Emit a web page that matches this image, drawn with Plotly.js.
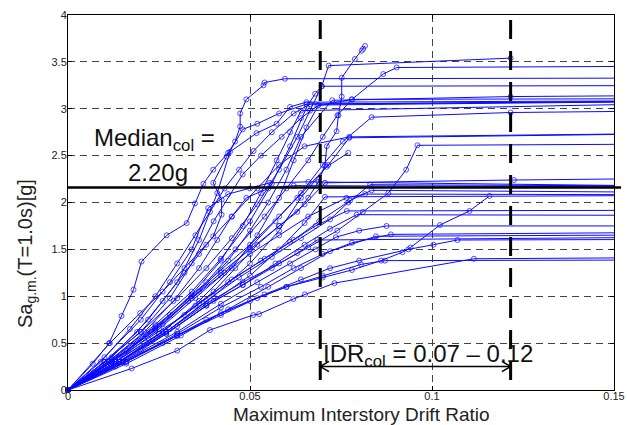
<!DOCTYPE html>
<html>
<head>
<meta charset="utf-8">
<script src="https://cdn.plot.ly/plotly-3.0.1.min.js"></script>
<style>html,body{margin:0;padding:0;background:#fff;}#chart{width:627px;height:425px;}</style>
</head>
<body>
<div id="chart"></div>
<script>
// IDA curves: maximum interstory drift ratio (x) vs Sa g.m. (T=1.0s) [g] (y)
// a final point at x = 0.2 represents the flat collapse tail running off the axis
const r01x = [0,0.0068,0.0113,0.0147,0.018,0.0202,0.0271,0.0326,0.0349,0.0372,0.0399,0.044,0.0459,0.0473,0.0473,0.049,0.0537,0.054,0.0596,0.2];
const r01y = [0,0.28,0.50,0.79,1.07,1.37,1.65,1.78,1.99,2.20,2.35,2.53,2.65,2.81,2.95,3.10,3.25,3.28,3.32,3.33];
const r02x = [0,0.012,0.022,0.032,0.04,0.046,0.052,0.058,0.063,0.066,0.0688,0.0706,0.0711,0.0738,0.0743,0.0752,0.0752,0.0788,0.0807,0.0811,0.0816];
const r02y = [0,0.30,0.55,0.80,1.05,1.30,1.55,1.75,1.90,2.05,2.22,2.40,2.60,2.76,2.93,3.13,3.33,3.53,3.62,3.64,3.67];
const r03x = [0,0.012,0.024,0.034,0.042,0.05,0.056,0.061,0.0656,0.0679,0.0697,0.0716,0.1216];
const r03y = [0,0.33,0.70,1.05,1.40,1.80,2.20,2.60,3.02,3.16,3.24,3.46,3.54];
const r04x = [0,0.016,0.028,0.038,0.046,0.054,0.060,0.066,0.070,0.074,0.078,0.0866,0.0903,0.2];
const r04y = [0,0.42,0.80,1.15,1.50,1.85,2.15,2.45,2.70,2.93,3.10,3.37,3.44,3.46];
const r05x = [0,0.010,0.020,0.030,0.038,0.045,0.052,0.058,0.063,0.0665,0.0697,0.2];
const r05y = [0,0.30,0.62,0.98,1.30,1.62,1.98,2.35,2.70,2.98,3.24,3.25];
const r06x = [0,0.014,0.026,0.036,0.044,0.050,0.055,0.060,0.064,0.0726,0.1216,0.2];
const r06y = [0,0.35,0.70,1.05,1.38,1.70,2.00,2.35,2.70,3.09,3.13,3.15];
const r07x = [0,0.010,0.020,0.028,0.034,0.040,0.048,0.053,0.0587,0.064,0.0685,0.078,0.2];
const r07y = [0,0.30,0.62,0.98,1.35,1.80,2.30,2.50,2.70,2.90,3.03,3.10,3.11];
const r08x = [0,0.014,0.026,0.036,0.045,0.052,0.058,0.062,0.0655,0.0688,0.2];
const r08y = [0,0.30,0.62,0.95,1.30,1.65,2.05,2.45,2.80,3.04,3.09];
const r09x = [0,0.012,0.022,0.030,0.036,0.041,0.0445,0.0518,0.0573,0.061,0.0655,0.2];
const r09y = [0,0.35,0.75,1.15,1.60,2.10,2.54,2.74,2.84,3.02,3.07,3.09];
const r10x = [0,0.012,0.024,0.034,0.042,0.050,0.058,0.064,0.070,0.0755,0.0834,0.1216,0.2];
const r10y = [0,0.32,0.68,1.00,1.28,1.55,1.85,2.10,2.40,2.65,2.91,2.96,2.99];
const r11x = [0,0.013,0.025,0.035,0.043,0.050,0.057,0.063,0.0715,0.0773,0.2];
const r11y = [0,0.30,0.65,0.98,1.25,1.52,1.80,2.05,2.40,2.69,2.75];
const r12x = [0,0.014,0.027,0.038,0.048,0.058,0.066,0.074,0.081,0.088,0.0929,0.096,0.2];
const r12y = [0,0.30,0.62,0.92,1.15,1.35,1.52,1.70,1.90,2.10,2.35,2.61,2.63];
const r13x = [0,0.014,0.028,0.040,0.050,0.058,0.064,0.071,0.077];
const r13y = [0,0.30,0.65,1.00,1.35,1.70,2.05,2.38,2.53];
const r14x = [0,0.012,0.024,0.034,0.042,0.050,0.058,0.065,0.0706,0.1225,0.2];
const r14y = [0,0.30,0.64,0.98,1.25,1.50,1.75,1.98,2.21,2.24,2.27];
const r15x = [0,0.014,0.027,0.038,0.047,0.056,0.064,0.072,0.077,0.083,0.2];
const r15y = [0,0.30,0.62,0.95,1.20,1.42,1.62,1.82,2.00,2.19,2.17];
const r16x = [0,0.013,0.025,0.036,0.045,0.054,0.062,0.069,0.0775,0.0834,0.2];
const r16y = [0,0.30,0.60,0.92,1.18,1.40,1.60,1.80,2.02,2.13,2.10];
const r17x = [0,0.012,0.023,0.033,0.042,0.050,0.058,0.066,0.0765,0.0816,0.2];
const r17y = [0,0.30,0.62,0.95,1.22,1.45,1.65,1.85,2.05,2.09,2.08];
const r18x = [0,0.013,0.026,0.038,0.050,0.060,0.070,0.078,0.086,0.0919,0.0941,0.1022,0.1103,0.1158];
const r18y = [0,0.25,0.50,0.75,0.95,1.10,1.20,1.28,1.38,1.47,1.52,1.76,1.91,2.07];
const r19x = [0,0.013,0.025,0.035,0.044,0.053,0.061,0.068,0.0766,0.2];
const r19y = [0,0.30,0.60,0.90,1.15,1.38,1.58,1.75,1.91,1.92];
const r20x = [0,0.014,0.027,0.038,0.048,0.057,0.065,0.072,0.0793,0.2];
const r20y = [0,0.30,0.60,0.90,1.12,1.35,1.55,1.72,1.87,1.86];
const r21x = [0,0.015,0.030,0.042,0.052,0.061,0.068,0.0736,0.080,0.0875,0.2];
const r21y = [0,0.30,0.62,0.92,1.15,1.35,1.50,1.63,1.70,1.75,1.75];
const r22x = [0,0.016,0.030,0.042,0.053,0.062,0.070,0.078,0.0887,0.2];
const r22y = [0,0.30,0.60,0.88,1.10,1.30,1.45,1.57,1.66,1.69];
const r23x = [0,0.016,0.031,0.044,0.055,0.064,0.072,0.0846,0.2];
const r23y = [0,0.28,0.58,0.86,1.10,1.30,1.48,1.64,1.66];
const r24x = [0,0.014,0.027,0.038,0.048,0.056,0.063,0.0685,0.2];
const r24y = [0,0.30,0.60,0.90,1.12,1.30,1.46,1.60,1.64];
const r25x = [0,0.015,0.030,0.042,0.054,0.064,0.072,0.080,0.0935,0.1004,0.107,0.2];
const r25y = [0,0.30,0.58,0.82,1.02,1.18,1.30,1.38,1.50,1.55,1.60,1.61];
const r26x = [0,0.0175,0.030,0.039,0.0509,0.0525,0.0619,0.0651,0.0732,0.1115,0.2];
const r26y = [0,0.23,0.42,0.64,0.80,0.81,0.97,1.02,1.14,1.40,1.42];
const r27x = [0,0.016,0.030,0.042,0.052,0.060,0.070,0.0805,0.0871,0.2];
const r27y = [0,0.30,0.58,0.80,0.98,1.10,1.22,1.34,1.38,1.39];
const r28x = [0,0.010,0.020,0.028,0.034,0.0385,0.044,0.050,0.0555,0.066,0.2];
const r28y = [0,0.35,0.75,1.15,1.50,1.94,2.09,2.15,2.21,2.22,2.16];
const r29x = [0,0.010,0.019,0.026,0.032,0.036,0.0399,0.0422,0.0422,0.0399,0.0436,0.048,0.052,0.058,0.0655,0.2];
const r29y = [0,0.30,0.62,0.95,1.25,1.45,1.64,1.87,2.03,2.21,2.49,2.78,2.84,2.95,3.05,3.09];
const r30x = [0,0.012,0.024,0.034,0.042,0.048,0.053,0.0573,0.061,0.064,0.2];
const r30y = [0,0.30,0.66,1.02,1.38,1.75,2.10,2.45,2.75,2.98,3.08];
const r31x = [0,0.020,0.030,0.040,0.050,0.058,0.065,0.0706,0.2];
const r31y = [0,0.42,0.68,0.95,1.22,1.50,1.78,2.06,2.08];
const r32x = [0,0.0115,0.0198,0.026,0.032,0.038,0.045,0.052,0.058,0.065,0.0773,0.2];
const r32y = [0,0.50,0.82,1.05,1.30,1.55,1.85,2.15,2.40,2.60,2.70,2.75];
const r33x = [0,0.009,0.017,0.024,0.030,0.035,0.039,0.043,0.047,0.051,0.056,0.062,0.0665,0.2];
const r33y = [0,0.30,0.65,1.00,1.35,1.65,1.90,2.15,2.35,2.55,2.75,2.95,3.05,3.09];
const r34x = [0,0.011,0.021,0.029,0.036,0.041,0.045,0.049,0.055,0.062,0.2];
const r34y = [0,0.30,0.62,0.95,1.30,1.60,1.85,2.05,2.15,2.18,2.16];

// annotations / reference values
const medianCol = 2.16;          // drawn level of the median collapse line
const medianLabel = '2.20g';
const idrLow = 0.0693, idrHigh = 0.1216;
const idrLabel = 'IDR<sub>col</sub> = 0.07 – 0.12';
const arrowLevel = 0.25;
const xTicks = [0, 0.05, 0.1, 0.15];
const yTicks = [0, 0.5, 1, 1.5, 2, 2.5, 3, 3.5, 4];

const records = [
  [r01x,r01y],[r02x,r02y],[r03x,r03y],[r04x,r04y],[r05x,r05y],[r06x,r06y],[r07x,r07y],[r08x,r08y],
  [r09x,r09y],[r10x,r10y],[r11x,r11y],[r12x,r12y],[r13x,r13y],[r14x,r14y],[r15x,r15y],[r16x,r16y],
  [r17x,r17y],[r18x,r18y],[r19x,r19y],[r20x,r20y],[r21x,r21y],[r22x,r22y],[r23x,r23y],[r24x,r24y],
  [r25x,r25y],[r26x,r26y],[r27x,r27y],[r28x,r28y],[r29x,r29y],[r30x,r30y],[r31x,r31y],[r32x,r32y],
  [r33x,r33y],[r34x,r34y]
];

const blue = 'rgb(10,10,255)';
const traces = records.map(([xs, ys]) => ({
  type: 'scatter', mode: 'lines+markers', x: xs, y: ys,
  line: {color: blue, width: 1},
  marker: {symbol: 'circle-open', size: xs.map(v => v > 0.15 ? 0 : 5), color: blue, line: {width: 1, color: blue}},
  cliponaxis: false, hoverinfo: 'skip', showlegend: false
}));

const F = 'Arial, "Liberation Sans", sans-serif';
const chev = 0.0024, chevH = 0.055;
const axisCommon = {
  ticks: 'inside', ticklen: 4, tickcolor: '#000', mirror: 'ticks',
  showline: true, linecolor: '#000', linewidth: 1,
  showgrid: true, gridcolor: '#444', gridwidth: 1, griddash: '7px,5px',
  zeroline: false, tickfont: {size: 11, family: F, color: '#222'}
};
const layout = {
  width: 627, height: 425,
  margin: {l: 68, r: 13, t: 15, b: 35, pad: 0},
  paper_bgcolor: '#fff', plot_bgcolor: '#fff',
  font: {family: F, color: '#222', size: 11},
  showlegend: false,
  xaxis: Object.assign({range: [0, 0.15], tickvals: xTicks, ticktext: xTicks.map(String), ticklabelstandoff: -4}, axisCommon),
  yaxis: Object.assign({range: [0, 4], tickvals: yTicks, ticktext: yTicks.map(String), ticklabelstandoff: -2}, axisCommon),
  shapes: [
    {type: 'line', xref: 'paper', yref: 'y', x0: 0, x1: 1.013, y0: medianCol, y1: medianCol,
     line: {color: '#000', width: 2.5}},
    {type: 'line', xref: 'x', yref: 'paper', x0: idrLow, x1: idrLow, y0: 0.987, y1: 0.019,
     line: {color: '#000', width: 3, dash: '19px,12px'}},
    {type: 'line', xref: 'x', yref: 'paper', x0: idrHigh, x1: idrHigh, y0: 0.987, y1: 0.019,
     line: {color: '#000', width: 3, dash: '19px,12px'}},
    {type: 'line', xref: 'x', yref: 'y', x0: idrLow, x1: idrHigh, y0: arrowLevel, y1: arrowLevel,
     line: {color: '#000', width: 1.5}},
    {type: 'path', xref: 'x', yref: 'y',
     path: `M ${idrLow + chev} ${arrowLevel + chevH} L ${idrLow} ${arrowLevel} L ${idrLow + chev} ${arrowLevel - chevH}`,
     line: {color: '#000', width: 1.5}},
    {type: 'path', xref: 'x', yref: 'y',
     path: `M ${idrHigh - chev} ${arrowLevel + chevH} L ${idrHigh} ${arrowLevel} L ${idrHigh - chev} ${arrowLevel - chevH}`,
     line: {color: '#000', width: 1.5}}
  ],
  annotations: [
    {xref: 'paper', yref: 'paper', x: 0.044, y: 0.667, xanchor: 'left', yanchor: 'middle',
     text: 'Median<sub>col</sub> =', showarrow: false, font: {family: F, size: 24, color: '#111'}},
    {xref: 'paper', yref: 'paper', x: 0.165, y: 0.581, xanchor: 'center', yanchor: 'middle',
     text: medianLabel, showarrow: false, font: {family: F, size: 24, color: '#111'}},
    {xref: 'paper', yref: 'paper', x: 0.4635, y: 0.093, xanchor: 'left', yanchor: 'middle',
     text: idrLabel, showarrow: false, font: {family: F, size: 24, color: '#111'}},
    {xref: 'paper', yref: 'paper', x: 0.537, y: -0.066, xanchor: 'center', yanchor: 'middle',
     text: 'Maximum Interstory Drift Ratio', showarrow: false, font: {family: F, size: 19, color: '#222'}},
    {xref: 'paper', yref: 'paper', x: -0.077, y: 0.365, xanchor: 'center', yanchor: 'middle', textangle: -90,
     text: 'Sa<sub>g.m.</sub>(T=1.0s)[g]', showarrow: false, font: {family: F, size: 20, color: '#222'}}
  ]
};

Plotly.newPlot('chart', traces, layout, {staticPlot: true, displayModeBar: false});
</script>
</body>
</html>
